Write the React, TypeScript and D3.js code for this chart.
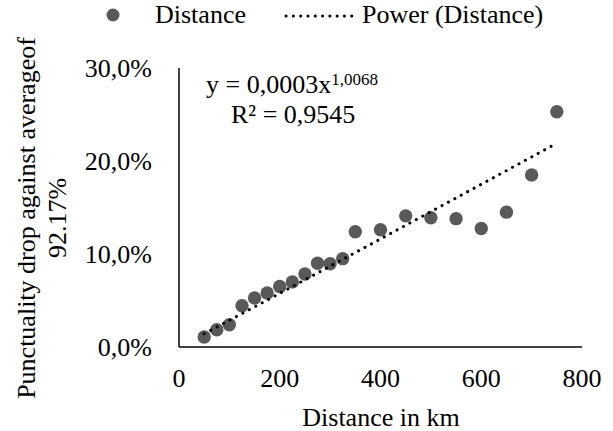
import { useMemo } from 'react';
import * as d3 from 'd3';

// distance (km) vs punctuality drop (%)
const distances = [50, 75, 100, 125, 150, 175, 200, 225, 250, 275, 300, 325, 350, 400, 450, 500, 550, 600, 650, 700, 750];
const drops = [1.07, 1.86, 2.4, 4.44, 5.27, 5.8, 6.5, 7.0, 7.85, 9.0, 8.95, 9.5, 12.4, 12.6, 14.1, 13.9, 13.8, 12.75, 14.5, 18.5, 25.3];

const xTicks = [0, 200, 400, 600, 800];
const yTicks = [0, 10, 20, 30];

const seriesName = 'Distance';
const trendName = 'Power (Distance)';
const equation = 'y = 0,0003x';
const exponent = '1,0068';
const rSquared = 'R² = 0,9545';
const xTitle = 'Distance in km';
const yTitle = ['Punctuality drop against averageof', '92.17%'];

const W = 613;
const H = 431;
const FONT = "'Liberation Serif', Tinos, 'Times New Roman', serif";

export default function App() {
  const x = d3.scaleLinear().domain([0, 800]).range([179, 582]);
  const y = d3.scaleLinear().domain([0, 30]).range([347, 68]);

  // power trendline fitted on log-log values, like Excel does
  const trendPath = useMemo(() => {
    const lx = distances.map(Math.log);
    const ly = drops.map(Math.log);
    const mx = d3.mean(lx)!;
    const my = d3.mean(ly)!;
    const b = d3.sum(lx.map((v, i) => (v - mx) * (ly[i] - my))) / d3.sum(lx.map(v => (v - mx) ** 2));
    const a = Math.exp(my - b * mx);
    const lo = d3.min(distances)!;
    const hi = d3.max(distances)!;
    const pts = d3.range(lo, hi + 0.01, 5).map(d => [d, a * Math.pow(d, b)] as [number, number]);
    return d3.line<[number, number]>().x(d => x(d[0])).y(d => y(d[1]))(pts) ?? '';
  }, []);

  const fmtY = (v: number) => d3.format('.1f')(v).replace('.', ',') + '%';
  const dotted = { stroke: '#000', strokeWidth: 3, strokeLinecap: 'round' as const, strokeDasharray: '0.1 7.2', fill: 'none' };

  return (
    <svg width={W} height={H} style={{ position: 'absolute', left: 0, top: 0, background: '#fff', fontFamily: FONT }}>
      {/* legend */}
      <circle cx={113} cy={15} r={6.5} fill="#595959" />
      <text x={155} y={23} fontSize={26}>{seriesName}</text>
      <line x1={286} x2={352} y1={16} y2={16} {...dotted} />
      <text x={362} y={23} fontSize={26}>{trendName}</text>

      {/* axes */}
      <line x1={x(0)} x2={x(0)} y1={y(30)} y2={y(0)} stroke="#000" strokeWidth={1.5} />
      <line x1={x(0)} x2={x(800)} y1={y(0)} y2={y(0)} stroke="#000" strokeWidth={1.5} />

      {xTicks.map(t => (
        <text key={t} x={x(t)} y={387} fontSize={26} textAnchor="middle">{t}</text>
      ))}
      {yTicks.map(t => (
        <text key={t} x={152} y={y(t) + 9} fontSize={26} textAnchor="end">{fmtY(t)}</text>
      ))}

      {/* points */}
      {distances.map((d, i) => (
        <circle key={d} cx={x(d)} cy={y(drops[i])} r={6.7} fill="#595959" />
      ))}

      {/* trendline */}
      <path d={trendPath} {...dotted} />

      {/* equation */}
      <text x={206} y={93} fontSize={26}>
        {equation}
        <tspan fontSize={17} dy={-8}>{exponent}</tspan>
      </text>
      <text x={231} y={123} fontSize={26}>{rSquared}</text>

      {/* titles */}
      <text x={381} y={426} fontSize={26} textAnchor="middle">{xTitle}</text>
      <g transform="translate(35,218) rotate(-90)">
        <text x={0} y={0} fontSize={26} textAnchor="middle">{yTitle[0]}</text>
        <text x={0} y={31} fontSize={26} textAnchor="middle">{yTitle[1]}</text>
      </g>
    </svg>
  );
}
